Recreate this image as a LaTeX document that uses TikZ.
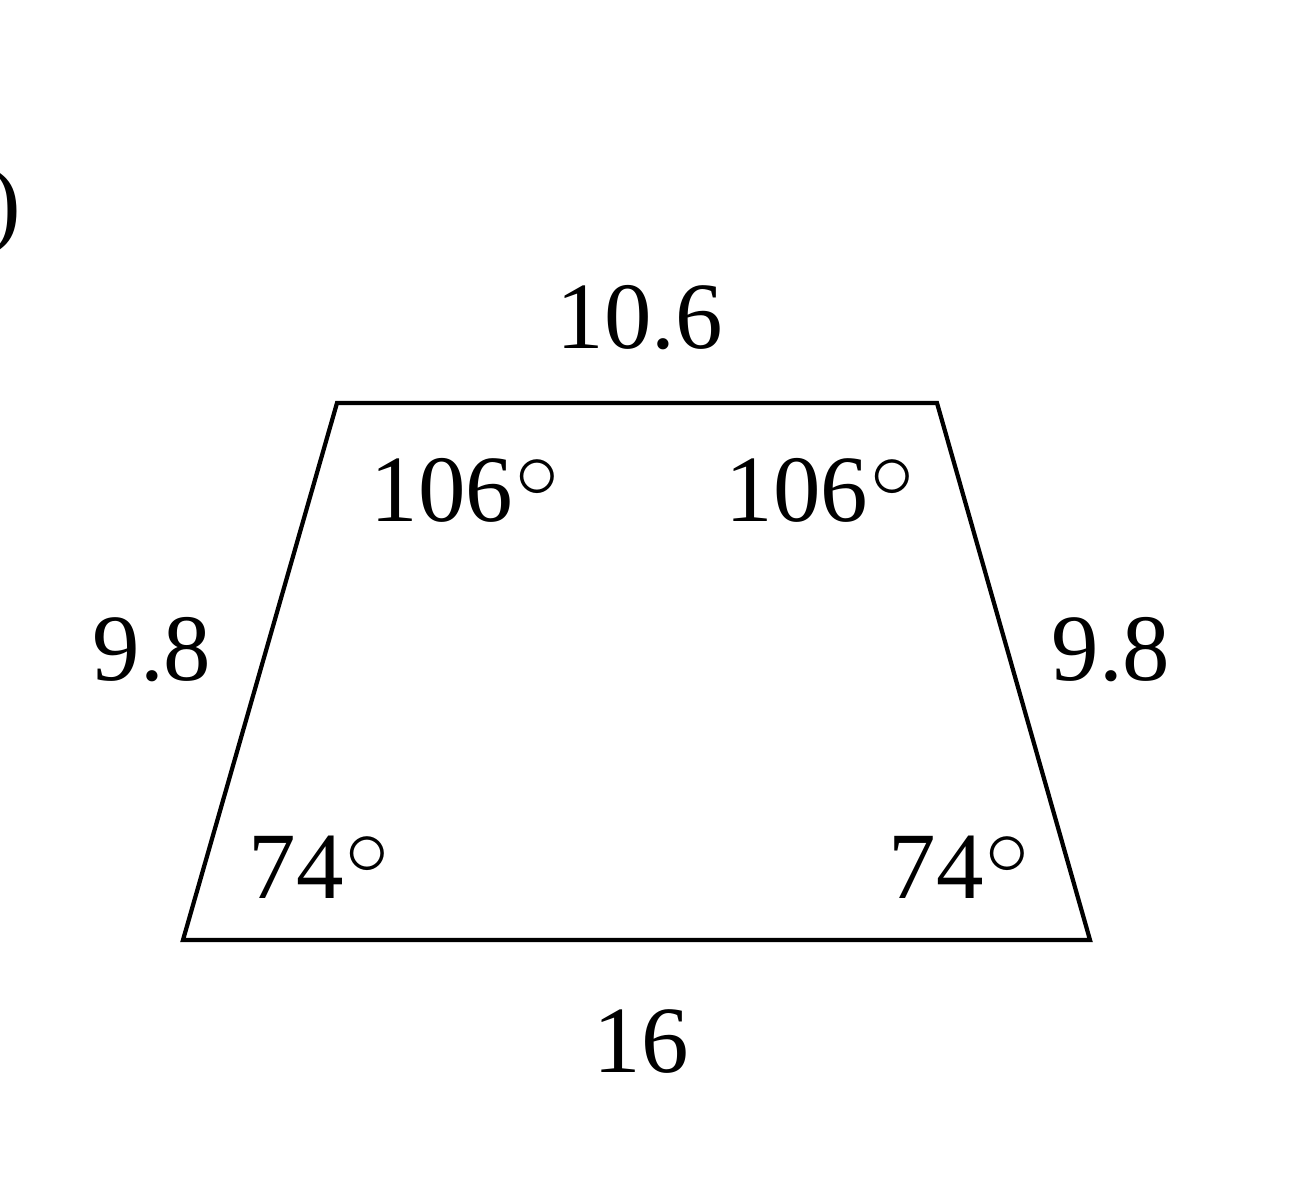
\documentclass[tikz,border=0pt]{standalone}
\usepackage{fontspec}
\setmainfont{Liberation Serif}
\usetikzlibrary{positioning}
\tikzstyle{lbl} = [inner sep=0pt, 
font=\fontsize{27}{32}\selectfont]
\tikzstyle{side} = [line width=1.2pt, line join=miter]
\newcommand{\dg}{\kern0.02em\raisebox{0.24em}{$\circ$}}

\begin{document}
\begin{tikzpicture}[x=0.01cm, y=-0.01cm]
		\useasboundingbox (0,0) rectangle (1303,1200);
		
		% corners of the trapezium
		\coordinate (bl) at (183,940);
		\coordinate (br) at (1090,940);
		\coordinate (tr) at (937,403);
		\coordinate (tl) at (337,403);
		
		\node (part) [lbl, anchor=east] at (22,212) {)};
		
		\node (top) [lbl] at (640,318) {10.6};
		\node (bot) [lbl] at (641,1042) {16};
		\node (lside) [lbl] at (152,650) {9.8};
		\node (rside) [lbl] at (1111,650) {9.8};
		
		\node (atl) [lbl, anchor=west] at (370,490) {106\dg};
		\node (atr) [lbl, anchor=west] at (725,490) {106\dg};
		\node (abl) [lbl, anchor=west] at (248,867) {74\dg};
		\node (abr) [lbl, anchor=west] at (888,867) {74\dg};
		
		\draw [side] (bl) -- (br) -- (tr) -- (tl) -- cycle;
		
	\end{tikzpicture}
\end{document}
